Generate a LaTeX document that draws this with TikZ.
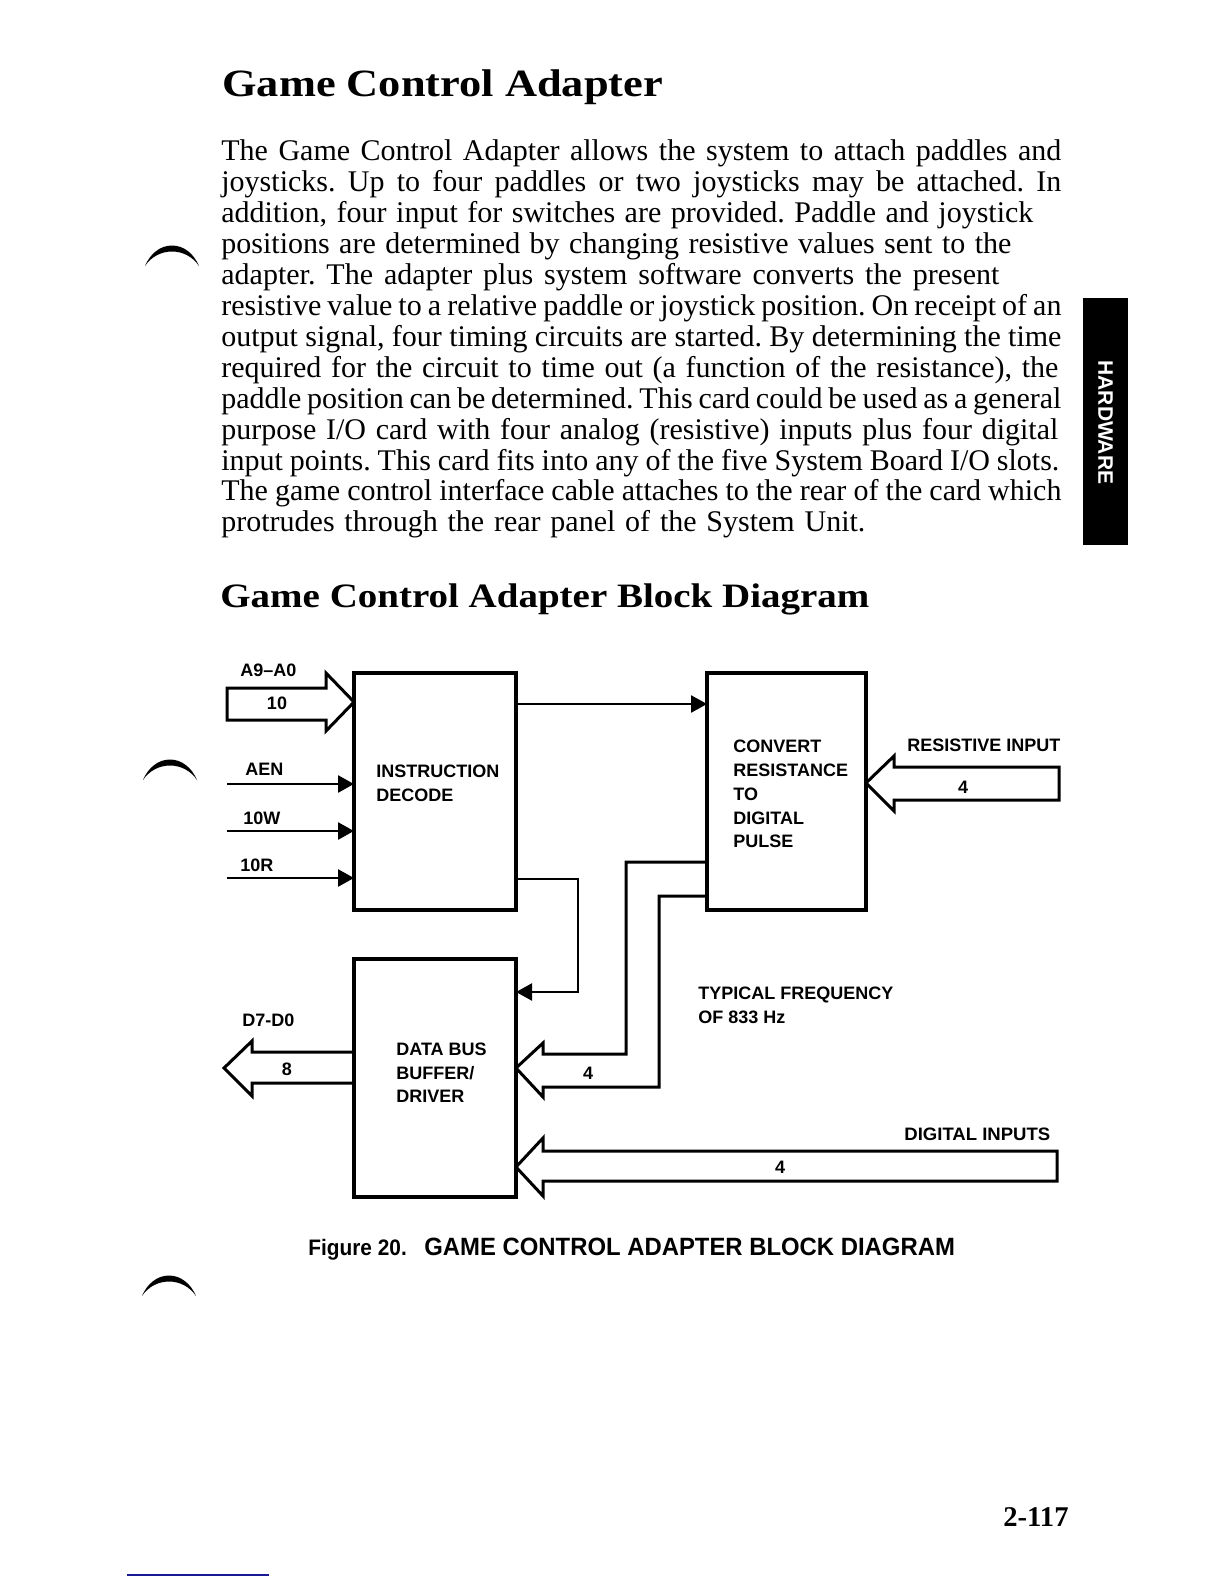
\documentclass[tikz,border=0pt]{standalone}
\usepackage{fontspec}
\setmainfont{Liberation Serif}
\setsansfont{Liberation Sans}
\usepackage{graphicx}
\usetikzlibrary{arrows.meta}
\definecolor{navyline}{RGB}{25,25,150}
\frenchspacing
\tikzset{
  box/.style={draw, line width=1.6pt, inner sep=0pt, outer sep=0pt},
  lbl/.style={font=\sffamily\bfseries\fontsize{9}{10}\selectfont, inner sep=0pt, anchor=base west},
  num/.style={font=\sffamily\bfseries\fontsize{9}{10}\selectfont, inner sep=0pt},
  sig/.style={line width=1.3pt, -{Triangle[length=8pt,width=8.5pt]}},
  bus/.style={line width=1.5pt, line join=miter},
  body/.style={font=\fontsize{15}{16}\selectfont, inner sep=0pt, anchor=base west},
  headA/.style={font=\bfseries\fontsize{19.3}{22}\selectfont, inner sep=0pt, anchor=base west},
  headB/.style={font=\bfseries\fontsize{17.1}{20}\selectfont, inner sep=0pt, anchor=base west},
  crescent/.style={fill=black},
}
\newcommand{\mycrescent}{%
  \fill[crescent] (145,266) .. controls (150,254) and (160,245.5) .. (172,245.5)
    .. controls (184,245.5) and (194,254) .. (199,266)
    .. controls (193,257) and (183,251.5) .. (172,251.5)
    .. controls (161,251.5) and (151,257) .. (145,266) -- cycle;}
\begin{document}
\begin{tikzpicture}[x=0.5pt,y=-0.5pt]
\useasboundingbox (0,0) rectangle (1224,1584);
\fill[white] (0,0) rectangle (1224,1584);

% headings
\node[headA] (h1) at (222,97) {\scalebox{1.15}[1]{Game Control Adapter}};
\node[headB] (h2) at (220,607) {\scalebox{1.14}[1]{Game Control Adapter Block Diagram}};

% body text
\node[body] (l1) at (221,161.0) {\makebox[420pt][s]{The Game Control Adapter allows the system to attach paddles and}};
\node[body] (l2) at (221,191.9) {\makebox[420pt][s]{joysticks. Up to four paddles or two joysticks may be attached. In}};
\node[body] (l3) at (221,222.8) {\makebox[406pt][s]{addition, four input for switches are provided. Paddle and joystick}};
\node[body] (l4) at (221,253.7) {\makebox[395pt][s]{positions are determined by changing resistive values sent to the}};
\node[body] (l5) at (221,284.6) {\makebox[389pt][s]{adapter. The adapter plus system software converts the present}};
\node[body] (l6) at (221,315.5) {\makebox[420pt][s]{resistive value to a relative paddle or joystick position. On receipt of an}};
\node[body] (l7) at (221,346.4) {\makebox[420pt][s]{output signal, four timing circuits are started. By determining the time}};
\node[body] (l8) at (221,377.3) {\makebox[418.5pt][s]{required for the circuit to time out (a function of the resistance), the}};
\node[body] (l9) at (221,408.2) {\makebox[420pt][s]{paddle position can be determined. This card could be used as a general}};
\node[body] (l10) at (221,439.1) {\makebox[418.5pt][s]{purpose I/O card with four analog (resistive) inputs plus four digital}};
\node[body] (l11) at (221,470.0) {\makebox[419pt][s]{input points. This card fits into any of the five System Board I/O slots.}};
\node[body] (l12) at (221,500.9) {\makebox[420pt][s]{The game control interface cable attaches to the rear of the card which}};
\node[body] (l13) at (221,531.8) {\makebox[322pt][s]{protrudes through the rear panel of the System Unit.}};

% side tab
\fill (1083,298) rectangle (1128,545);
\node[font=\sffamily\bfseries\fontsize{10.5}{12}\selectfont, text=white, rotate=-90, inner sep=0pt] (tab) at (1105.5,422.5) {HARDWARE};

% crescent marks
\mycrescent
\begin{scope}[shift={(-2,514)}]\mycrescent\end{scope}
\begin{scope}[shift={(-3,1030)}]\mycrescent\end{scope}

% boxes
\node[box, minimum width=81pt, minimum height=118.5pt] (instr) at (435,791.5) {};
\node[box, minimum width=79.5pt, minimum height=118.5pt] (conv) at (786.5,791.5) {};
\node[box, minimum width=81pt, minimum height=119pt] (dbus) at (435,1078) {};

% box texts
\node[lbl] (ti1) at (376,777) {INSTRUCTION};
\node[lbl] (ti2) at (376,801) {DECODE};
\node[lbl] (tc1) at (733,752) {CONVERT};
\node[lbl] (tc2) at (733,776) {RESISTANCE};
\node[lbl] (tc3) at (733,800) {TO};
\node[lbl] (tc4) at (733,824) {DIGITAL};
\node[lbl] (tc5) at (733,847) {PULSE};
\node[lbl] (td1) at (396,1055) {DATA BUS};
\node[lbl] (td2) at (396,1079) {BUFFER/};
\node[lbl] (td3) at (396,1102) {DRIVER};

% outside labels
\node[lbl] (la9) at (240,676) {A9--A0};
\node[lbl] (laen) at (245,775) {AEN};
\node[lbl] (liow) at (243,824) {10W};
\node[lbl] (lior) at (240,871) {10R};
\node[lbl] (lres) at (907,751) {RESISTIVE INPUT};
\node[lbl] (lfq1) at (698,999) {TYPICAL FREQUENCY};
\node[lbl] (lfq2) at (698,1023) {OF 833 Hz};
\node[lbl] (ld7) at (242,1026) {D7-D0};
\node[lbl] (ldig) at (904,1140) {\scalebox{1.03}[1]{DIGITAL INPUTS}};

% helper coordinates
\coordinate (aen) at (227,784);
\coordinate (iow) at (227,831);
\coordinate (ior) at (227,878);
\coordinate (ytop) at (0,704);
\coordinate (k1) at (578,879);
\coordinate (k2) at (578,992);
\coordinate (a9tip) at (0,702);
\coordinate (rtip) at (0,783);
\coordinate (d1) at (0,1052);
\coordinate (d2) at (0,1083);
\coordinate (m1) at (0,862);
\coordinate (m2) at (0,896);
\coordinate (m3) at (0,1068);
\coordinate (g1) at (0,1167);

% single-line connectors
\draw[sig] (aen) -- (instr.west |- aen);
\draw[sig] (iow) -- (instr.west |- iow);
\draw[sig] (ior) -- (instr.west |- ior);
\draw[sig] (instr.east |- ytop) -- (conv.west |- ytop);
\draw[sig, line width=1.1pt] (instr.east |- k1) -- (k1) -- (k2) -- (dbus.east |- k2);

% bus arrows
\draw[bus] (227,688) -- (326,688) -- (326,673) -- (instr.west |- a9tip) -- (326,731) -- (326,720) -- (227,720) -- cycle;
\node[num] (n10) at (277,703) {10};

\draw[bus] (conv.east |- rtip) -- (894,756) -- (894,767) -- (1059,767) -- (1059,800) -- (894,800) -- (894,811) -- cycle;
\node[num] (nres) at (963,787) {4};

\draw[bus] (dbus.west |- d1) -- (252,1052) -- (252,1041) -- (224,1068) -- (252,1096) -- (252,1083) -- (dbus.west |- d2);
\node[num] (n8) at (287,1069) {8};

\draw[bus] (conv.west |- m1) -- (626,862) -- (626,1054) -- (543,1054) -- (543,1043) -- (dbus.east |- m3) -- (543,1097) -- (543,1087) -- (659,1087) -- (659,896) -- (conv.west |- m2);
\node[num] (nmid) at (588,1073) {4};

\draw[bus] (dbus.east |- g1) -- (543,1138) -- (543,1151) -- (1057,1151) -- (1057,1181) -- (543,1181) -- (543,1196) -- cycle;
\node[num] (ndig) at (780,1167) {4};

% caption
\node[font=\sffamily\bfseries\fontsize{11.2}{13}\selectfont, inner sep=0pt, anchor=base west] (capa) at (308,1255) {\scalebox{0.93}[1]{Figure 20.}};
\node[font=\sffamily\bfseries\fontsize{12.5}{14}\selectfont, inner sep=0pt, anchor=base west] (capb) at (424,1255) {\scalebox{0.955}[1]{GAME CONTROL ADAPTER BLOCK DIAGRAM}};

% page number
\node[font=\bfseries\fontsize{14.3}{16}\selectfont, inner sep=0pt, anchor=base west] (pg) at (1003,1526) {2-117};

% blue rule
\draw[line width=1pt, navyline] (127,1575) -- (269,1575);
\end{tikzpicture}
\end{document}
